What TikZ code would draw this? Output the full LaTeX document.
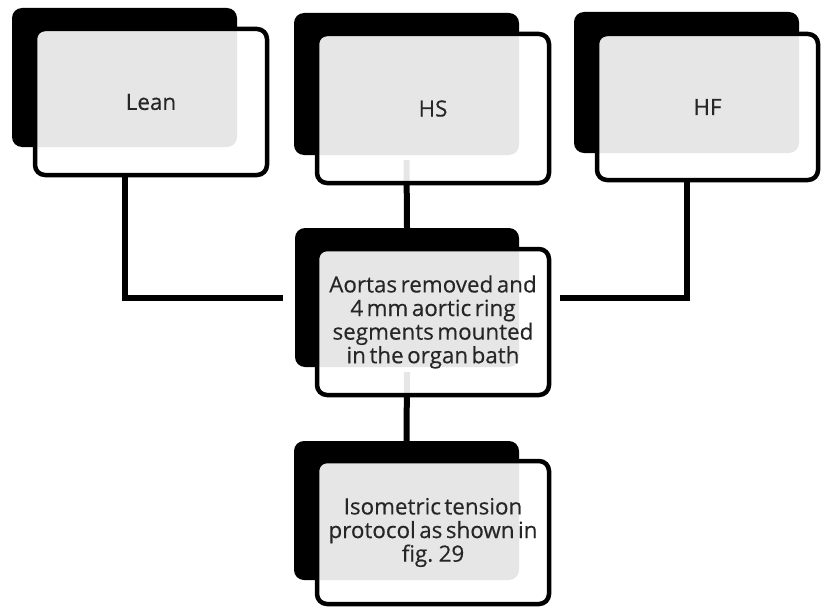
\documentclass[tikz,border=0pt]{standalone}
\usepackage{fontspec}
\setmainfont[WordSpace=0.6,FakeBold=0.35]{Open Sans}
\usetikzlibrary{calc,backgrounds}
\begin{document}
\begin{tikzpicture}[x=1pt,y=-1pt,
  backbox/.style={rectangle, rounded corners=10pt, fill=black, draw=none, inner sep=0pt},
  frontbox/.style={rectangle, rounded corners=10pt, draw=black, line width=4.5pt,
    fill=white, fill opacity=0.9, text opacity=1, text=black!85, align=center,
    inner sep=0pt, font=\fontsize{22.4}{23.6}\selectfont},
  link/.style={line width=6pt, draw=black}]
\useasboundingbox (0,0) rectangle (821,607);

% shadow panels
\node[backbox, minimum width=225pt, minimum height=139pt] (leanB) at (124.5,77.5) {};
\node[backbox, minimum width=225pt, minimum height=142pt] (hsB) at (406.5,84) {};
\node[backbox, minimum width=225pt, minimum height=141pt] (hfB) at (686.5,82.5) {};
\node[backbox, minimum width=224pt, minimum height=139pt] (midB) at (407,297.5) {};
\node[backbox, minimum width=225pt, minimum height=139pt] (botB) at (406.5,510.5) {};

% framed panels with the labels
\node[frontbox, minimum width=232pt, minimum height=146pt] (leanF) at (151,102) {Lean};
\node[frontbox, minimum width=232pt, minimum height=149pt] (hsF) at (433,108.5) {HS};
\node[frontbox, minimum width=221pt, minimum height=146pt] (hfF) at (707.5,107) {HF};
\node[frontbox, minimum width=232pt, minimum height=146pt] (midF) at (433,322)
  {Aortas removed and\\4 mm aortic ring\\segments mounted\\in the organ bath};
\node[frontbox, minimum width=232pt, minimum height=143pt] (botF) at (433,532.5)
  {Isometric tension\\protocol as shown in\\fig. 29};

% connectors behind the panels
\begin{pgfonlayer}{background}
\draw[link] (leanF.south -| leanB.center) -- (leanB.center |- midB.center)
  -- ($(midB.west)+(-12,0)$);
\draw[link] (hfF.south -| hfB.center) -- (hfB.center |- midB.center)
  -- ($(midF.east |- midB.center)+(9,0)$);
\draw[link] ($(hsB.south)+(0,5)$) -- (midB.north);
\draw[link] ($(midB.south)+(0,5)$) -- (botB.north);
\end{pgfonlayer}
\end{tikzpicture}
\end{document}
